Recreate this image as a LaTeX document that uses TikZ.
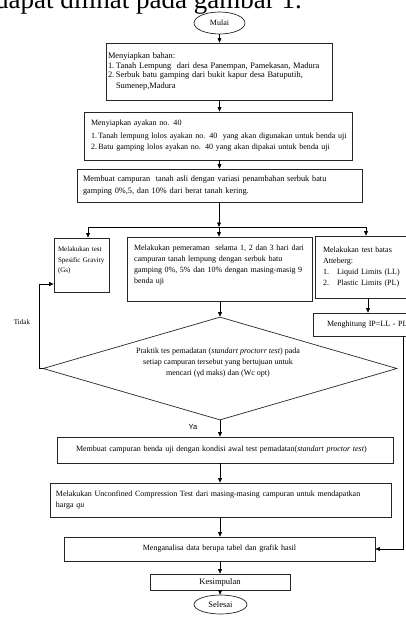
\documentclass[tikz,border=0pt]{standalone}
\usepackage{fontspec}
\setmainfont{Liberation Serif}
\newfontfamily\yafont{Liberation Sans}
\usetikzlibrary{arrows.meta,shapes.geometric,calc}
\newcommand{\jline}[2]{\makebox[#1][s]{#2}}
\begin{document}
\begin{tikzpicture}[x=1pt,y=-1pt,
  box/.style={draw=black!85, line width=0.7pt, rectangle, inner ysep=0pt, align=left},
  term/.style={draw=black!85, line width=0.7pt, ellipse, inner sep=0pt},
  arr/.style={line width=0.6pt, -{Triangle[length=4.5pt,width=3.8pt]}},
  ln/.style={line width=0.6pt},
  f8/.style={font=\fontsize{8}{11}\selectfont}]
\useasboundingbox (0,0) rectangle (406,633);
\clip (0,0) rectangle (406,633);
\fill[white] (0,0) rectangle (406,633);

\node[anchor=base east, font=\fontsize{27}{30}\selectfont, inner sep=0pt] (head) at (302,8) {dapat dilihat pada gambar 1.};

\node[term, minimum width=51pt, minimum height=22pt, font=\fontsize{8}{9}\selectfont] (mulai) at (219.5,23) {Mulai};

\node[box, minimum width=226pt, minimum height=57pt, text width=222pt, inner xsep=2pt, font=\fontsize{8.4}{9.5}\selectfont] (b1) at (219,71.5)
 {\mbox{Menyiapkan bahan:}\\
  \mbox{\makebox[8pt][l]{1.}Tanah Lempung\ \ dari desa Panempan, Pamekasan, Madura}\\
  \mbox{\makebox[8pt][l]{2.}Serbuk batu gamping dari bukit kapur desa Batuputih,}\\[1.5pt]
  \mbox{\hspace*{8pt}Sumenep,Madura}};

\node[box, minimum width=268pt, minimum height=48pt, text width=254pt, inner xsep=7pt, font=\fontsize{8.05}{11}\selectfont] (b2) at (218,136)
 {\mbox{Menyiapkan ayakan no. 40}\\[2pt]
  \mbox{1.\,Tanah lempung lolos ayakan no. 40\ \ yang akan digunakan untuk benda uji}\\
  \mbox{2.\,Batu gamping lolos ayakan no. 40 yang akan dipakai untuk benda uji}};

\node[box, minimum width=285pt, minimum height=33pt, text width=273pt, inner xsep=6pt, font=\fontsize{8.3}{12}\selectfont] (b3) at (219.5,185.5)
 {\jline{273pt}{Membuat campuran\ \ tanah asli dengan variasi penambahan serbuk batu}\\
  \mbox{gamping 0\%,5, dan 10\% dari berat tanah kering.}};

\coordinate (split) at (219,227);
\coordinate (sl) at (88,227);
\coordinate (sr) at (366,227);
\coordinate (rd) at (368,0);
\coordinate (rf) at (403,0);
\coordinate (tl) at (39,284);

\node[box, minimum width=55pt, minimum height=54pt, text width=47pt, inner xsep=4pt, font=\fontsize{7}{10.5}\selectfont] (gs) at (81.5,265)
 {\mbox{Melakukan test}\\\mbox{Spesific Gravity}\\\mbox{(Gs)}\\\mbox{}};

\node[box, minimum width=185pt, minimum height=64pt, text width=171pt, inner xsep=7pt, f8] (mid) at (219.5,269)
 {\jline{171pt}{Melakukan pemeraman\ \ selama 1, 2 dan 3 hari dari}\\
  \jline{171pt}{campuran tanah lempung dengan serbuk batu}\\
  \jline{171pt}{gamping 0\%, 5\% dan 10\% dengan masing-masig 9}\\
  \mbox{benda uji}\\[-2pt]\mbox{}};

\node[box, minimum width=105pt, minimum height=62pt, text width=89pt, inner xsep=8pt, f8] (rt) at (367.5,267)
 {\mbox{Melakukan test batas}\\\mbox{Atteberg:}\\
  \mbox{\makebox[14pt][l]{1.}Liquid Limits (LL)}\\
  \mbox{\makebox[14pt][l]{2.}Plastic Limits (PL)}};

\node[box, minimum width=107pt, minimum height=23pt, text width=79pt, inner xsep=14pt, f8] (ip) at (366.5,324.5)
 {\mbox{Menghitung IP=LL - PL}};

\node[draw=black!85, line width=0.7pt, diamond, minimum width=354pt, minimum height=103pt, inner sep=0pt] (dia) at (220,368.5) {};
\node[align=center, f8, inner sep=0pt] (diat) at (218,363)
 {Praktik tes pemadatan (\textit{standart proctorr test}) pada\\
  setiap campuran tersebut yang bertujuan untuk\\
  mencari (γd maks) dan (Wc opt)};

\node[font=\fontsize{7}{8}\selectfont, inner sep=0pt] (tidak) at (22,322) {Tidak};
\node[font=\yafont\fontsize{7.5}{8}\selectfont, inner sep=0pt] (ya) at (193,427) {Ya};

\node[box, minimum width=336pt, minimum height=26pt, text width=298pt, inner xsep=19pt, f8] (mk) at (225,450)
 {\mbox{Membuat campuran benda uji dengan kondisi awal test pemadatan(\textit{standart proctor test})}};

\node[box, minimum width=341pt, minimum height=34pt, text width=329pt, inner xsep=6pt, f8] (unc) at (220.5,500)
 {\jline{329pt}{Melakukan Unconfined Compression Test dari masing-masing campuran untuk mendapatkan}\\
  \mbox{harga \textit{qu}}};

\node[box, minimum width=311pt, minimum height=24pt, text width=300pt, inner xsep=5.5pt, align=center, f8] (ana) at (219.5,549)
 {Menganalisa data berupa tabel dan grafik hasil};

\node[box, minimum width=140pt, minimum height=16pt, text width=130pt, inner xsep=5pt, align=center, font=\fontsize{8.5}{10}\selectfont] (kes) at (220,582)
 {Kesimpulan};

\node[term, minimum width=53pt, minimum height=19pt, font=\fontsize{8.5}{9}\selectfont] (selesai) at (220.5,604.5) {Selesai};

% connectors
\draw[arr] (mulai) -- (b1.north -| mulai);
\draw[arr] (b1.south -| mulai) -- (b2.north -| mulai);
\draw[arr] (b2.south -| mulai) -- (b3.north -| mulai);
\draw[arr] (b3.south -| split) -- (split);
\draw[ln] (sl) -- (sr);
\draw[arr] (sl) -- (sl |- gs.north);
\draw[arr] (split) -- (split |- mid.north);
\draw[arr] (sr) -- (sr |- rt.north);
\draw[arr] (rt.south -| rd) -- (ip.north -| rd);
\draw[arr] (mid.south -| dia.north) -- (dia.north);
\draw[arr] (dia.west) -| (tl) -- (tl -| gs.west);
\draw[arr] (ip.south -| rf) |- (ana.east);
\draw[arr] (dia.south) -- (mk.north -| dia.south);
\draw[arr] (mk.south -| dia.south) -- (unc.north -| dia.south);
\draw[arr] (unc.south -| dia.south) -- (ana.north -| dia.south);
\draw[arr] (ana.south -| dia.south) -- (kes.north -| dia.south);
\draw[arr] (kes.south -| dia.south) -- (selesai);
\end{tikzpicture}
\end{document}
